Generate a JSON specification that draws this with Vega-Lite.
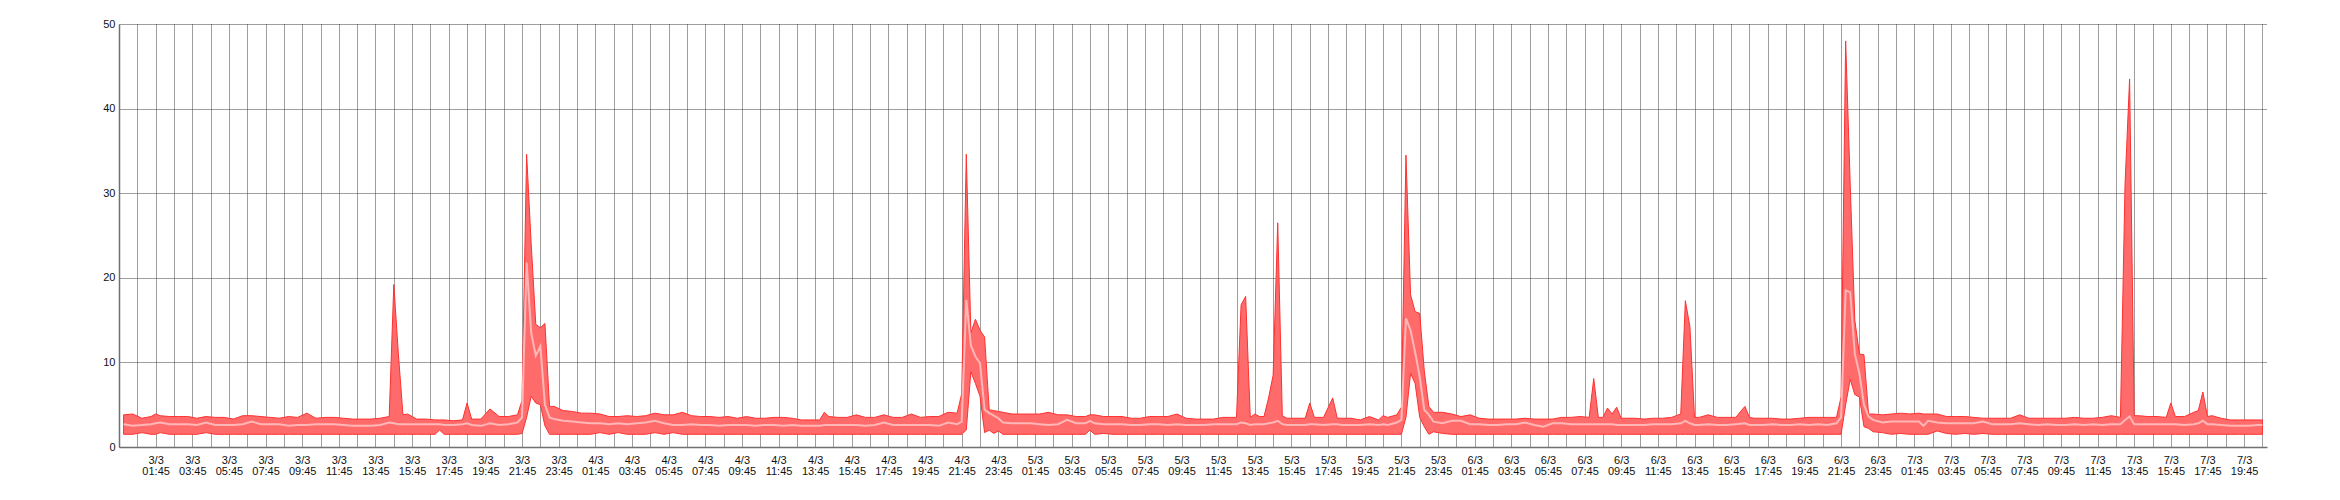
{
"$schema": "https://vega.github.io/schema/vega-lite/v6.json",
"width": 2148,
"height": 423,
"autosize": {"type": "none"},
"padding": {"left": 119, "top": 24, "right": 73, "bottom": 53},
"background": "white",
"data": {"values": [
{"t":"2024-03-03T00:00Z","lo":1.5,"m":2.7,"hi":3.8},
{"t":"2024-03-03T00:30Z","lo":1.5,"m":2.5,"hi":3.9},
{"t":"2024-03-03T01:00Z","lo":1.7,"m":2.6,"hi":3.4},
{"t":"2024-03-03T01:30Z","lo":1.5,"m":2.7,"hi":3.6},
{"t":"2024-03-03T01:45Z","lo":1.5,"m":2.8,"hi":3.9},
{"t":"2024-03-03T02:00Z","lo":1.7,"m":2.9,"hi":3.7},
{"t":"2024-03-03T02:30Z","lo":1.5,"m":2.7,"hi":3.6},
{"t":"2024-03-03T03:00Z","lo":1.5,"m":2.7,"hi":3.6},
{"t":"2024-03-03T03:30Z","lo":1.5,"m":2.7,"hi":3.6},
{"t":"2024-03-03T04:00Z","lo":1.5,"m":2.6,"hi":3.4},
{"t":"2024-03-03T04:30Z","lo":1.7,"m":2.9,"hi":3.6},
{"t":"2024-03-03T05:00Z","lo":1.5,"m":2.6,"hi":3.5},
{"t":"2024-03-03T05:30Z","lo":1.5,"m":2.6,"hi":3.5},
{"t":"2024-03-03T06:00Z","lo":1.5,"m":2.6,"hi":3.3},
{"t":"2024-03-03T06:30Z","lo":1.5,"m":2.7,"hi":3.7},
{"t":"2024-03-03T07:00Z","lo":1.5,"m":3.0,"hi":3.7},
{"t":"2024-03-03T07:30Z","lo":1.5,"m":2.7,"hi":3.6},
{"t":"2024-03-03T08:00Z","lo":1.5,"m":2.7,"hi":3.5},
{"t":"2024-03-03T08:30Z","lo":1.5,"m":2.7,"hi":3.4},
{"t":"2024-03-03T09:00Z","lo":1.5,"m":2.5,"hi":3.6},
{"t":"2024-03-03T09:30Z","lo":1.5,"m":2.6,"hi":3.5},
{"t":"2024-03-03T10:00Z","lo":1.5,"m":2.6,"hi":4.0},
{"t":"2024-03-03T10:30Z","lo":1.5,"m":2.7,"hi":3.4},
{"t":"2024-03-03T11:00Z","lo":1.5,"m":2.7,"hi":3.5},
{"t":"2024-03-03T11:30Z","lo":1.5,"m":2.7,"hi":3.5},
{"t":"2024-03-03T12:00Z","lo":1.5,"m":2.6,"hi":3.4},
{"t":"2024-03-03T12:30Z","lo":1.5,"m":2.5,"hi":3.3},
{"t":"2024-03-03T13:00Z","lo":1.5,"m":2.5,"hi":3.3},
{"t":"2024-03-03T13:30Z","lo":1.5,"m":2.5,"hi":3.3},
{"t":"2024-03-03T14:00Z","lo":1.5,"m":2.6,"hi":3.4},
{"t":"2024-03-03T14:30Z","lo":1.5,"m":2.9,"hi":3.6},
{"t":"2024-03-03T14:45Z","lo":1.5,"m":2.8,"hi":19.2},
{"t":"2024-03-03T15:00Z","lo":1.5,"m":2.7,"hi":11.0},
{"t":"2024-03-03T15:15Z","lo":1.5,"m":2.7,"hi":3.8},
{"t":"2024-03-03T15:30Z","lo":1.5,"m":2.7,"hi":3.9},
{"t":"2024-03-03T16:00Z","lo":1.5,"m":2.7,"hi":3.3},
{"t":"2024-03-03T16:30Z","lo":1.5,"m":2.7,"hi":3.3},
{"t":"2024-03-03T17:00Z","lo":1.5,"m":2.7,"hi":3.2},
{"t":"2024-03-03T17:15Z","lo":2.0,"m":2.7,"hi":3.2},
{"t":"2024-03-03T17:30Z","lo":1.5,"m":2.6,"hi":3.2},
{"t":"2024-03-03T18:00Z","lo":1.5,"m":2.6,"hi":3.1},
{"t":"2024-03-03T18:30Z","lo":1.5,"m":2.7,"hi":3.2},
{"t":"2024-03-03T18:45Z","lo":1.5,"m":2.8,"hi":5.2},
{"t":"2024-03-03T19:00Z","lo":1.5,"m":2.6,"hi":3.3},
{"t":"2024-03-03T19:30Z","lo":1.5,"m":2.5,"hi":3.3},
{"t":"2024-03-03T20:00Z","lo":1.5,"m":2.8,"hi":4.5},
{"t":"2024-03-03T20:30Z","lo":1.5,"m":2.6,"hi":3.6},
{"t":"2024-03-03T21:00Z","lo":1.5,"m":2.7,"hi":3.6},
{"t":"2024-03-03T21:30Z","lo":1.5,"m":2.9,"hi":3.8},
{"t":"2024-03-03T21:45Z","lo":1.6,"m":3.5,"hi":5.5},
{"t":"2024-03-03T22:00Z","lo":3.5,"m":21.8,"hi":34.6},
{"t":"2024-03-03T22:15Z","lo":6.0,"m":13.5,"hi":24.0},
{"t":"2024-03-03T22:30Z","lo":5.2,"m":10.8,"hi":14.5},
{"t":"2024-03-03T22:45Z","lo":5.0,"m":11.9,"hi":14.1},
{"t":"2024-03-03T23:00Z","lo":2.5,"m":5.0,"hi":14.6},
{"t":"2024-03-03T23:15Z","lo":1.5,"m":3.5,"hi":4.8},
{"t":"2024-03-03T23:30Z","lo":1.5,"m":3.3,"hi":4.8},
{"t":"2024-03-04T00:00Z","lo":1.5,"m":3.1,"hi":4.3},
{"t":"2024-03-04T00:30Z","lo":1.5,"m":3.0,"hi":4.2},
{"t":"2024-03-04T01:00Z","lo":1.5,"m":2.9,"hi":4.0},
{"t":"2024-03-04T01:30Z","lo":1.5,"m":2.8,"hi":4.0},
{"t":"2024-03-04T02:00Z","lo":1.7,"m":2.8,"hi":3.9},
{"t":"2024-03-04T02:30Z","lo":1.5,"m":2.7,"hi":3.6},
{"t":"2024-03-04T03:00Z","lo":1.7,"m":2.8,"hi":3.6},
{"t":"2024-03-04T03:30Z","lo":1.5,"m":2.7,"hi":3.7},
{"t":"2024-03-04T04:00Z","lo":1.5,"m":2.8,"hi":3.6},
{"t":"2024-03-04T04:30Z","lo":1.5,"m":2.9,"hi":3.7},
{"t":"2024-03-04T05:00Z","lo":1.7,"m":3.1,"hi":4.0},
{"t":"2024-03-04T05:30Z","lo":1.5,"m":2.8,"hi":3.8},
{"t":"2024-03-04T06:00Z","lo":1.7,"m":2.6,"hi":3.8},
{"t":"2024-03-04T06:30Z","lo":1.5,"m":2.6,"hi":4.1},
{"t":"2024-03-04T07:00Z","lo":1.5,"m":2.7,"hi":3.7},
{"t":"2024-03-04T07:30Z","lo":1.5,"m":2.6,"hi":3.6},
{"t":"2024-03-04T08:00Z","lo":1.5,"m":2.6,"hi":3.6},
{"t":"2024-03-04T08:30Z","lo":1.5,"m":2.5,"hi":3.5},
{"t":"2024-03-04T09:00Z","lo":1.5,"m":2.6,"hi":3.6},
{"t":"2024-03-04T09:30Z","lo":1.5,"m":2.6,"hi":3.4},
{"t":"2024-03-04T10:00Z","lo":1.5,"m":2.6,"hi":3.6},
{"t":"2024-03-04T10:30Z","lo":1.5,"m":2.5,"hi":3.4},
{"t":"2024-03-04T11:00Z","lo":1.5,"m":2.6,"hi":3.4},
{"t":"2024-03-04T11:30Z","lo":1.5,"m":2.6,"hi":3.5},
{"t":"2024-03-04T12:00Z","lo":1.5,"m":2.5,"hi":3.5},
{"t":"2024-03-04T12:30Z","lo":1.5,"m":2.6,"hi":3.4},
{"t":"2024-03-04T13:00Z","lo":1.5,"m":2.5,"hi":3.2},
{"t":"2024-03-04T13:30Z","lo":1.5,"m":2.5,"hi":3.2},
{"t":"2024-03-04T14:00Z","lo":1.5,"m":2.5,"hi":3.2},
{"t":"2024-03-04T14:15Z","lo":1.5,"m":2.6,"hi":4.1},
{"t":"2024-03-04T14:30Z","lo":1.5,"m":2.6,"hi":3.6},
{"t":"2024-03-04T15:00Z","lo":1.5,"m":2.6,"hi":3.5},
{"t":"2024-03-04T15:30Z","lo":1.5,"m":2.6,"hi":3.5},
{"t":"2024-03-04T16:00Z","lo":1.5,"m":2.6,"hi":3.8},
{"t":"2024-03-04T16:30Z","lo":1.5,"m":2.5,"hi":3.5},
{"t":"2024-03-04T17:00Z","lo":1.5,"m":2.6,"hi":3.5},
{"t":"2024-03-04T17:30Z","lo":1.5,"m":2.9,"hi":3.8},
{"t":"2024-03-04T18:00Z","lo":1.5,"m":2.6,"hi":3.5},
{"t":"2024-03-04T18:30Z","lo":1.5,"m":2.6,"hi":3.5},
{"t":"2024-03-04T19:00Z","lo":1.5,"m":2.6,"hi":3.9},
{"t":"2024-03-04T19:30Z","lo":1.5,"m":2.6,"hi":3.5},
{"t":"2024-03-04T20:00Z","lo":1.5,"m":2.6,"hi":3.6},
{"t":"2024-03-04T20:30Z","lo":1.5,"m":2.5,"hi":3.6},
{"t":"2024-03-04T21:00Z","lo":1.5,"m":2.9,"hi":4.1},
{"t":"2024-03-04T21:30Z","lo":1.5,"m":2.7,"hi":4.0},
{"t":"2024-03-04T21:45Z","lo":1.5,"m":3.0,"hi":6.3},
{"t":"2024-03-04T22:00Z","lo":2.0,"m":17.4,"hi":34.6},
{"t":"2024-03-04T22:15Z","lo":8.9,"m":12.0,"hi":13.5},
{"t":"2024-03-04T22:30Z","lo":7.5,"m":10.7,"hi":15.1},
{"t":"2024-03-04T22:45Z","lo":6.0,"m":9.9,"hi":13.8},
{"t":"2024-03-04T23:00Z","lo":1.7,"m":4.4,"hi":13.0},
{"t":"2024-03-04T23:15Z","lo":2.0,"m":4.0,"hi":4.4},
{"t":"2024-03-04T23:30Z","lo":1.6,"m":3.7,"hi":4.3},
{"t":"2024-03-04T23:45Z","lo":1.9,"m":3.4,"hi":4.2},
{"t":"2024-03-05T00:00Z","lo":1.5,"m":2.9,"hi":4.1},
{"t":"2024-03-05T00:30Z","lo":1.5,"m":2.8,"hi":3.9},
{"t":"2024-03-05T01:00Z","lo":1.5,"m":2.8,"hi":3.9},
{"t":"2024-03-05T01:30Z","lo":1.5,"m":2.8,"hi":3.9},
{"t":"2024-03-05T02:00Z","lo":1.5,"m":2.7,"hi":3.9},
{"t":"2024-03-05T02:30Z","lo":1.5,"m":2.6,"hi":4.1},
{"t":"2024-03-05T03:00Z","lo":1.5,"m":2.7,"hi":3.8},
{"t":"2024-03-05T03:30Z","lo":1.5,"m":3.2,"hi":3.8},
{"t":"2024-03-05T04:00Z","lo":1.5,"m":2.8,"hi":3.6},
{"t":"2024-03-05T04:30Z","lo":1.5,"m":2.8,"hi":3.6},
{"t":"2024-03-05T04:45Z","lo":2.0,"m":3.1,"hi":3.8},
{"t":"2024-03-05T05:00Z","lo":1.5,"m":2.8,"hi":3.8},
{"t":"2024-03-05T05:30Z","lo":1.6,"m":2.7,"hi":3.6},
{"t":"2024-03-05T06:00Z","lo":1.5,"m":2.7,"hi":3.6},
{"t":"2024-03-05T06:30Z","lo":1.5,"m":2.7,"hi":3.6},
{"t":"2024-03-05T07:00Z","lo":1.5,"m":2.6,"hi":3.4},
{"t":"2024-03-05T07:30Z","lo":1.5,"m":2.6,"hi":3.4},
{"t":"2024-03-05T08:00Z","lo":1.5,"m":2.7,"hi":3.6},
{"t":"2024-03-05T08:30Z","lo":1.5,"m":2.7,"hi":3.6},
{"t":"2024-03-05T09:00Z","lo":1.5,"m":2.6,"hi":3.6},
{"t":"2024-03-05T09:30Z","lo":1.5,"m":2.7,"hi":3.9},
{"t":"2024-03-05T10:00Z","lo":1.5,"m":2.6,"hi":3.4},
{"t":"2024-03-05T10:30Z","lo":1.5,"m":2.6,"hi":3.3},
{"t":"2024-03-05T11:00Z","lo":1.5,"m":2.6,"hi":3.3},
{"t":"2024-03-05T11:30Z","lo":1.5,"m":2.7,"hi":3.3},
{"t":"2024-03-05T12:00Z","lo":1.5,"m":2.7,"hi":3.5},
{"t":"2024-03-05T12:30Z","lo":1.5,"m":2.7,"hi":3.5},
{"t":"2024-03-05T12:45Z","lo":1.5,"m":2.7,"hi":3.5},
{"t":"2024-03-05T13:00Z","lo":1.5,"m":2.9,"hi":16.8},
{"t":"2024-03-05T13:15Z","lo":1.5,"m":2.8,"hi":17.8},
{"t":"2024-03-05T13:30Z","lo":1.5,"m":2.6,"hi":3.5},
{"t":"2024-03-05T13:45Z","lo":1.5,"m":2.7,"hi":3.9},
{"t":"2024-03-05T14:00Z","lo":1.5,"m":2.7,"hi":3.6},
{"t":"2024-03-05T14:15Z","lo":1.5,"m":2.7,"hi":3.6},
{"t":"2024-03-05T14:30Z","lo":1.5,"m":2.8,"hi":5.8},
{"t":"2024-03-05T14:45Z","lo":1.5,"m":2.9,"hi":8.5},
{"t":"2024-03-05T15:00Z","lo":1.5,"m":3.1,"hi":26.5},
{"t":"2024-03-05T15:15Z","lo":1.5,"m":2.7,"hi":3.7},
{"t":"2024-03-05T15:30Z","lo":1.5,"m":2.6,"hi":3.4},
{"t":"2024-03-05T16:00Z","lo":1.5,"m":2.6,"hi":3.4},
{"t":"2024-03-05T16:30Z","lo":1.5,"m":2.6,"hi":3.4},
{"t":"2024-03-05T16:45Z","lo":1.5,"m":2.7,"hi":5.2},
{"t":"2024-03-05T17:00Z","lo":1.5,"m":2.7,"hi":3.5},
{"t":"2024-03-05T17:30Z","lo":1.5,"m":2.6,"hi":3.5},
{"t":"2024-03-05T18:00Z","lo":1.5,"m":2.7,"hi":5.8},
{"t":"2024-03-05T18:15Z","lo":1.5,"m":2.7,"hi":3.4},
{"t":"2024-03-05T18:30Z","lo":1.5,"m":2.6,"hi":3.4},
{"t":"2024-03-05T19:00Z","lo":1.5,"m":2.6,"hi":3.4},
{"t":"2024-03-05T19:30Z","lo":1.5,"m":2.6,"hi":3.2},
{"t":"2024-03-05T20:00Z","lo":1.5,"m":2.7,"hi":3.6},
{"t":"2024-03-05T20:30Z","lo":1.5,"m":2.6,"hi":3.2},
{"t":"2024-03-05T20:45Z","lo":1.5,"m":2.7,"hi":3.7},
{"t":"2024-03-05T21:00Z","lo":1.5,"m":2.6,"hi":3.5},
{"t":"2024-03-05T21:30Z","lo":1.5,"m":2.9,"hi":3.8},
{"t":"2024-03-05T21:45Z","lo":1.5,"m":3.2,"hi":4.7},
{"t":"2024-03-05T22:00Z","lo":3.5,"m":15.2,"hi":34.5},
{"t":"2024-03-05T22:15Z","lo":8.7,"m":13.8,"hi":18.0},
{"t":"2024-03-05T22:30Z","lo":7.5,"m":11.2,"hi":16.0},
{"t":"2024-03-05T22:45Z","lo":3.5,"m":8.3,"hi":15.8},
{"t":"2024-03-05T23:00Z","lo":2.4,"m":4.4,"hi":9.0},
{"t":"2024-03-05T23:15Z","lo":1.5,"m":3.8,"hi":4.8},
{"t":"2024-03-05T23:30Z","lo":1.8,"m":3.0,"hi":4.1},
{"t":"2024-03-06T00:00Z","lo":1.6,"m":2.8,"hi":4.1},
{"t":"2024-03-06T00:30Z","lo":1.5,"m":3.1,"hi":3.9},
{"t":"2024-03-06T01:00Z","lo":1.5,"m":3.1,"hi":3.6},
{"t":"2024-03-06T01:30Z","lo":1.5,"m":2.7,"hi":3.8},
{"t":"2024-03-06T02:00Z","lo":1.5,"m":2.7,"hi":3.4},
{"t":"2024-03-06T02:30Z","lo":1.5,"m":2.6,"hi":3.3},
{"t":"2024-03-06T03:00Z","lo":1.5,"m":2.6,"hi":3.3},
{"t":"2024-03-06T03:30Z","lo":1.5,"m":2.7,"hi":3.3},
{"t":"2024-03-06T04:00Z","lo":1.5,"m":2.7,"hi":3.3},
{"t":"2024-03-06T04:30Z","lo":1.5,"m":2.9,"hi":3.4},
{"t":"2024-03-06T05:00Z","lo":1.5,"m":2.6,"hi":3.3},
{"t":"2024-03-06T05:30Z","lo":1.5,"m":2.4,"hi":3.3},
{"t":"2024-03-06T06:00Z","lo":1.5,"m":2.8,"hi":3.3},
{"t":"2024-03-06T06:30Z","lo":1.5,"m":2.8,"hi":3.5},
{"t":"2024-03-06T07:00Z","lo":1.5,"m":2.7,"hi":3.5},
{"t":"2024-03-06T07:30Z","lo":1.5,"m":2.7,"hi":3.6},
{"t":"2024-03-06T08:00Z","lo":1.5,"m":2.7,"hi":3.5},
{"t":"2024-03-06T08:15Z","lo":1.5,"m":2.7,"hi":8.1},
{"t":"2024-03-06T08:30Z","lo":1.5,"m":2.7,"hi":3.5},
{"t":"2024-03-06T08:45Z","lo":1.5,"m":2.7,"hi":3.5},
{"t":"2024-03-06T09:00Z","lo":1.5,"m":2.7,"hi":4.6},
{"t":"2024-03-06T09:15Z","lo":1.5,"m":2.7,"hi":3.9},
{"t":"2024-03-06T09:30Z","lo":1.5,"m":2.6,"hi":4.7},
{"t":"2024-03-06T09:45Z","lo":1.5,"m":2.6,"hi":3.4},
{"t":"2024-03-06T10:00Z","lo":1.5,"m":2.6,"hi":3.4},
{"t":"2024-03-06T10:30Z","lo":1.5,"m":2.6,"hi":3.4},
{"t":"2024-03-06T11:00Z","lo":1.5,"m":2.6,"hi":3.3},
{"t":"2024-03-06T11:30Z","lo":1.5,"m":2.7,"hi":3.4},
{"t":"2024-03-06T12:00Z","lo":1.5,"m":2.7,"hi":3.4},
{"t":"2024-03-06T12:30Z","lo":1.5,"m":2.7,"hi":3.5},
{"t":"2024-03-06T13:00Z","lo":1.5,"m":2.8,"hi":3.9},
{"t":"2024-03-06T13:15Z","lo":1.5,"m":3.1,"hi":17.3},
{"t":"2024-03-06T13:30Z","lo":1.5,"m":2.8,"hi":14.2},
{"t":"2024-03-06T13:45Z","lo":1.5,"m":2.6,"hi":3.5},
{"t":"2024-03-06T14:00Z","lo":1.5,"m":2.6,"hi":3.5},
{"t":"2024-03-06T14:30Z","lo":1.5,"m":2.7,"hi":3.8},
{"t":"2024-03-06T15:00Z","lo":1.5,"m":2.6,"hi":3.5},
{"t":"2024-03-06T15:30Z","lo":1.5,"m":2.6,"hi":3.5},
{"t":"2024-03-06T16:00Z","lo":1.5,"m":2.7,"hi":3.5},
{"t":"2024-03-06T16:30Z","lo":1.5,"m":2.8,"hi":4.8},
{"t":"2024-03-06T16:45Z","lo":1.5,"m":2.6,"hi":3.5},
{"t":"2024-03-06T17:00Z","lo":1.5,"m":2.6,"hi":3.4},
{"t":"2024-03-06T17:30Z","lo":1.5,"m":2.6,"hi":3.4},
{"t":"2024-03-06T18:00Z","lo":1.5,"m":2.7,"hi":3.4},
{"t":"2024-03-06T18:30Z","lo":1.5,"m":2.6,"hi":3.3},
{"t":"2024-03-06T19:00Z","lo":1.5,"m":2.6,"hi":3.3},
{"t":"2024-03-06T19:30Z","lo":1.5,"m":2.7,"hi":3.4},
{"t":"2024-03-06T20:00Z","lo":1.5,"m":2.6,"hi":3.5},
{"t":"2024-03-06T20:30Z","lo":1.5,"m":2.7,"hi":3.5},
{"t":"2024-03-06T21:00Z","lo":1.5,"m":2.6,"hi":3.5},
{"t":"2024-03-06T21:30Z","lo":1.5,"m":2.8,"hi":3.5},
{"t":"2024-03-06T21:45Z","lo":1.5,"m":3.5,"hi":5.9},
{"t":"2024-03-06T22:00Z","lo":5.0,"m":18.5,"hi":48.0},
{"t":"2024-03-06T22:15Z","lo":8.0,"m":18.3,"hi":31.0},
{"t":"2024-03-06T22:30Z","lo":6.2,"m":11.0,"hi":15.0},
{"t":"2024-03-06T22:45Z","lo":5.9,"m":8.7,"hi":11.0},
{"t":"2024-03-06T23:00Z","lo":2.4,"m":5.0,"hi":10.9},
{"t":"2024-03-06T23:15Z","lo":2.2,"m":3.6,"hi":3.9},
{"t":"2024-03-06T23:30Z","lo":1.8,"m":3.2,"hi":3.9},
{"t":"2024-03-07T00:00Z","lo":1.7,"m":2.9,"hi":3.8},
{"t":"2024-03-07T00:30Z","lo":1.5,"m":3.0,"hi":3.9},
{"t":"2024-03-07T01:00Z","lo":1.6,"m":3.0,"hi":4.0},
{"t":"2024-03-07T01:30Z","lo":1.5,"m":3.0,"hi":3.9},
{"t":"2024-03-07T02:00Z","lo":1.5,"m":3.0,"hi":4.0},
{"t":"2024-03-07T02:15Z","lo":1.5,"m":2.5,"hi":3.9},
{"t":"2024-03-07T02:30Z","lo":1.5,"m":3.1,"hi":3.9},
{"t":"2024-03-07T03:00Z","lo":1.9,"m":2.9,"hi":3.9},
{"t":"2024-03-07T03:30Z","lo":1.6,"m":2.8,"hi":3.6},
{"t":"2024-03-07T04:00Z","lo":1.5,"m":2.8,"hi":3.6},
{"t":"2024-03-07T04:30Z","lo":1.6,"m":2.8,"hi":3.6},
{"t":"2024-03-07T05:00Z","lo":1.5,"m":2.8,"hi":3.5},
{"t":"2024-03-07T05:30Z","lo":1.6,"m":3.0,"hi":3.4},
{"t":"2024-03-07T06:00Z","lo":1.5,"m":2.7,"hi":3.4},
{"t":"2024-03-07T06:30Z","lo":1.5,"m":2.7,"hi":3.4},
{"t":"2024-03-07T07:00Z","lo":1.5,"m":2.7,"hi":3.4},
{"t":"2024-03-07T07:30Z","lo":1.5,"m":2.8,"hi":3.8},
{"t":"2024-03-07T08:00Z","lo":1.5,"m":2.7,"hi":3.4},
{"t":"2024-03-07T08:30Z","lo":1.5,"m":2.6,"hi":3.4},
{"t":"2024-03-07T09:00Z","lo":1.5,"m":2.7,"hi":3.4},
{"t":"2024-03-07T09:30Z","lo":1.5,"m":2.6,"hi":3.4},
{"t":"2024-03-07T10:00Z","lo":1.5,"m":2.6,"hi":3.4},
{"t":"2024-03-07T10:30Z","lo":1.5,"m":2.7,"hi":3.5},
{"t":"2024-03-07T11:00Z","lo":1.5,"m":2.6,"hi":3.4},
{"t":"2024-03-07T11:30Z","lo":1.5,"m":2.7,"hi":3.4},
{"t":"2024-03-07T12:00Z","lo":1.5,"m":2.6,"hi":3.5},
{"t":"2024-03-07T12:30Z","lo":1.5,"m":2.7,"hi":3.7},
{"t":"2024-03-07T13:00Z","lo":1.5,"m":2.7,"hi":3.5},
{"t":"2024-03-07T13:15Z","lo":1.5,"m":3.2,"hi":31.0},
{"t":"2024-03-07T13:30Z","lo":1.5,"m":3.6,"hi":43.5},
{"t":"2024-03-07T13:45Z","lo":1.5,"m":2.7,"hi":3.7},
{"t":"2024-03-07T14:00Z","lo":1.5,"m":2.7,"hi":3.7},
{"t":"2024-03-07T14:30Z","lo":1.5,"m":2.7,"hi":3.6},
{"t":"2024-03-07T15:00Z","lo":1.5,"m":2.7,"hi":3.6},
{"t":"2024-03-07T15:30Z","lo":1.5,"m":2.7,"hi":3.5},
{"t":"2024-03-07T15:45Z","lo":1.5,"m":2.7,"hi":5.2},
{"t":"2024-03-07T16:00Z","lo":1.5,"m":2.7,"hi":3.6},
{"t":"2024-03-07T16:30Z","lo":1.5,"m":2.6,"hi":3.6},
{"t":"2024-03-07T17:00Z","lo":1.5,"m":2.7,"hi":4.1},
{"t":"2024-03-07T17:15Z","lo":1.5,"m":2.8,"hi":4.3},
{"t":"2024-03-07T17:30Z","lo":1.5,"m":3.1,"hi":6.5},
{"t":"2024-03-07T17:45Z","lo":1.5,"m":2.7,"hi":3.6},
{"t":"2024-03-07T18:00Z","lo":1.5,"m":2.7,"hi":3.7},
{"t":"2024-03-07T18:30Z","lo":1.5,"m":2.6,"hi":3.4},
{"t":"2024-03-07T19:00Z","lo":1.5,"m":2.5,"hi":3.2},
{"t":"2024-03-07T19:30Z","lo":1.5,"m":2.5,"hi":3.2},
{"t":"2024-03-07T20:00Z","lo":1.5,"m":2.5,"hi":3.2},
{"t":"2024-03-07T20:30Z","lo":1.5,"m":2.6,"hi":3.2},
{"t":"2024-03-07T20:45Z","lo":1.5,"m":2.6,"hi":3.2}
]},
"encoding": {
  "x": {
    "field": "t", "type": "temporal",
    "scale": {"type": "utc", "domain": [1709423100000, 1709845200000]},
    "axis": {
      "title": null,
      "values": [1709426700000,1709430300000,1709433900000,1709437500000,1709441100000,1709444700000,1709448300000,1709451900000,1709455500000,1709459100000,1709462700000,1709466300000,1709469900000,1709473500000,1709477100000,1709480700000,1709484300000,1709487900000,1709491500000,1709495100000,1709498700000,1709502300000,1709505900000,1709509500000,1709513100000,1709516700000,1709520300000,1709523900000,1709527500000,1709531100000,1709534700000,1709538300000,1709541900000,1709545500000,1709549100000,1709552700000,1709556300000,1709559900000,1709563500000,1709567100000,1709570700000,1709574300000,1709577900000,1709581500000,1709585100000,1709588700000,1709592300000,1709595900000,1709599500000,1709603100000,1709606700000,1709610300000,1709613900000,1709617500000,1709621100000,1709624700000,1709628300000,1709631900000,1709635500000,1709639100000,1709642700000,1709646300000,1709649900000,1709653500000,1709657100000,1709660700000,1709664300000,1709667900000,1709671500000,1709675100000,1709678700000,1709682300000,1709685900000,1709689500000,1709693100000,1709696700000,1709700300000,1709703900000,1709707500000,1709711100000,1709714700000,1709718300000,1709721900000,1709725500000,1709729100000,1709732700000,1709736300000,1709739900000,1709743500000,1709747100000,1709750700000,1709754300000,1709757900000,1709761500000,1709765100000,1709768700000,1709772300000,1709775900000,1709779500000,1709783100000,1709786700000,1709790300000,1709793900000,1709797500000,1709801100000,1709804700000,1709808300000,1709811900000,1709815500000,1709819100000,1709822700000,1709826300000,1709829900000,1709833500000,1709837100000,1709840700000,1709844300000],
      "labelExpr": "utchours(datum.value) % 2 == 1 ? [utcFormat(datum.value, '%-d/%-m'), utcFormat(datum.value, '%H:%M')] : ''"
    }
  }
},
"layer": [
  {
    "mark": {"type": "area", "fill": "#ff6b6b", "stroke": "#ff3030", "strokeWidth": 1, "fillOpacity": 1},
    "encoding": {
      "y": {"field": "hi", "type": "quantitative", "scale": {"domain": [0, 50], "nice": false},
            "axis": {"title": null, "values": [0, 10, 20, 30, 40, 50]}},
      "y2": {"field": "lo"}
    }
  },
  {
    "mark": {"type": "line", "color": "#ffb6b6", "strokeWidth": 2},
    "encoding": {
      "y": {"field": "m", "type": "quantitative", "axis": {"title": null}}
    }
  }
],
"config": {
  "view": {"stroke": null},
  "axis": {
    "grid": true, "gridColor": "#3c3c3c", "gridDash": [1, 1], "gridWidth": 1,
    "domainColor": "#707070", "domainWidth": 1.5, "ticks": false,
    "labelFont": "Liberation Sans", "labelFontSize": 11, "labelColor": "#111111"
  },
  "axisX": {"labelPadding": 7, "labelBaseline": "top", "labelLineHeight": 11, "labelOverlap": false, "labelBound": false, "labelFlush": false},
  "axisY": {"labelPadding": 4}
}
}
